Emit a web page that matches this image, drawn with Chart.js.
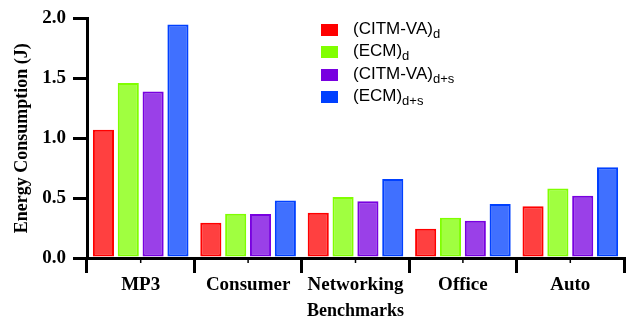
<!DOCTYPE html>
<html>
<head>
<meta charset="utf-8">
<script src="https://cdn.jsdelivr.net/npm/chart.js@4/dist/chart.umd.min.js"></script>
<style>
  html, body { margin: 0; padding: 0; background: #fff; }
  #wrap { position: relative; width: 636px; height: 322px; }
  #legend { position: absolute; left: 321px; top: 19px; font-family: "Liberation Sans", Arial, sans-serif; font-size: 17px; color: #000; }
  #legend .row { display: flex; align-items: center; height: 22.3px; }
  #legend .box { width: 17px; height: 12px; margin-right: 15px; }
  #legend sub { font-size: 13px; vertical-align: -4px; }
</style>
</head>
<body>
<div id="wrap">
  <canvas id="c" width="636" height="322"></canvas>
  <div id="legend"></div>
</div>
<script>
const categories = ['MP3', 'Consumer', 'Networking', 'Office', 'Auto'];
const citmD  = [1.07, 0.295, 0.377, 0.244, 0.432];
const ecmD   = [1.46, 0.37, 0.51, 0.335, 0.581];
const citmDS = [1.39, 0.368, 0.473, 0.31, 0.52];
const ecmDS  = [1.95, 0.481, 0.66, 0.451, 0.758];
const yTicks = [0, 0.5, 1.0, 1.5, 2.0];
const seriesNames = ['(CITM-VA)', '(ECM)', '(CITM-VA)', '(ECM)'];
const seriesSubs  = ['d', 'd', 'd+s', 'd+s'];

const borders = ['#ff0000', '#80ff00', '#7800e0', '#0040ff'];
const fills = ['rgba(255,0,0,0.75)', 'rgba(128,255,0,0.75)', 'rgba(120,0,224,0.75)', 'rgba(0,64,255,0.75)'];
const values = [citmD, ecmD, citmDS, ecmDS];

const datasets = values.map((v, i) => ({
  label: seriesNames[i] + seriesSubs[i],
  data: v,
  backgroundColor: fills[i],
  borderColor: borders[i],
  borderWidth: 2,
  borderSkipped: false,
  categoryPercentage: 0.925,
  barPercentage: 0.85
}));

const serif = '"Liberation Serif", "Times New Roman", serif';

const centerTicks = {
  id: 'centerTicks',
  afterDraw(chart) {
    const xs = chart.scales.x;
    const ctx = chart.ctx;
    ctx.save();
    ctx.strokeStyle = '#000';
    ctx.lineWidth = 1.5;
    categories.forEach((c, i) => {
      const px = xs.getPixelForValue(i);
      ctx.beginPath();
      ctx.moveTo(px, xs.top);
      ctx.lineTo(px, xs.top + 5);
      ctx.stroke();
    });
    ctx.restore();
  }
};

new Chart(document.getElementById('c'), {
  type: 'bar',
  data: { labels: categories, datasets },
  plugins: [centerTicks],
  options: {
    responsive: false,
    animation: false,
    devicePixelRatio: 1,
    layout: { padding: { left: 0, top: 15, right: 12, bottom: 0 } },
    plugins: { legend: { display: false }, tooltip: { enabled: false } },
    scales: {
      x: {
        afterFit(s) { s.height = 64; },
        grid: { display: true, drawOnChartArea: false, drawTicks: true, offset: true, tickLength: 15, lineWidth: 3, color: '#000' },
        border: { display: true, color: '#000', width: 3 },
        ticks: { color: '#000', padding: 1, font: { family: serif, size: 19, weight: 'bold' } },
        title: { display: true, text: 'Benchmarks', color: '#000', padding: { top: 0, bottom: 0 }, font: { family: serif, size: 18, weight: 'bold' } }
      },
      y: {
        min: 0, max: 2,
        afterFit(s) { s.width = 87; },
        afterBuildTicks(s) { s.ticks = yTicks.map(v => ({ value: v })); },
        grid: { display: true, drawOnChartArea: false, drawTicks: true, tickLength: 14, lineWidth: 3, color: '#000' },
        border: { display: true, color: '#000', width: 3 },
        ticks: { color: '#000', padding: 7, callback: v => v.toFixed(1), font: { family: serif, size: 19, weight: 'bold' } },
        title: { display: true, text: 'Energy Consumption (J)', color: '#000', padding: { top: 12, bottom: 0 }, font: { family: serif, size: 18, weight: 'bold' } }
      }
    }
  }
});

const lg = document.getElementById('legend');
seriesNames.forEach((n, i) => {
  const row = document.createElement('div');
  row.className = 'row';
  const box = document.createElement('span');
  box.className = 'box';
  box.style.background = borders[i];
  const t = document.createElement('span');
  t.textContent = n;
  const sub = document.createElement('sub');
  sub.textContent = seriesSubs[i];
  t.appendChild(sub);
  row.appendChild(box);
  row.appendChild(t);
  lg.appendChild(row);
});
</script>
</body>
</html>
